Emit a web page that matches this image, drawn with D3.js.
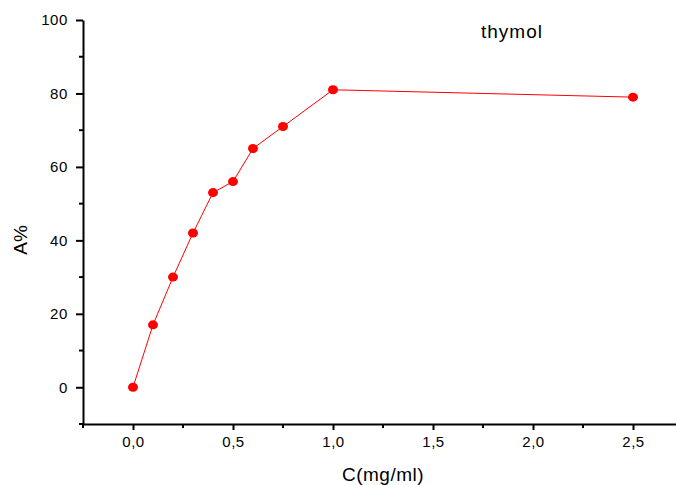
<!DOCTYPE html>
<html>
<head>
<meta charset="utf-8">
<script src="https://cdn.jsdelivr.net/npm/d3@7"></script>
<style>
  body { margin: 0; background: #fff; }
  svg text { font-family: "Liberation Sans", Arial, sans-serif; fill: #000; }
  .axis path, .axis line { stroke: #000; stroke-width: 2; }
</style>
</head>
<body>
<svg width="676" height="485"></svg>
<script>
// data
var conc = [0, 0.1, 0.2, 0.3, 0.4, 0.5, 0.6, 0.75, 1.0, 2.5];
var activity = [0, 17, 30, 42, 53, 56, 65, 71, 81, 79];
var xTicks = [0, 0.5, 1.0, 1.5, 2.0, 2.5];
var yTicks = [0, 20, 40, 60, 80, 100];
var seriesName = "thymol";

var svg = d3.select("svg");

var x = d3.scaleLinear().domain([-0.25, 2.715]).range([83, 676]);
var y = d3.scaleLinear().domain([-10, 100]).range([424, 20]);

var fmt = function(d) { return d3.format(".1f")(d).replace(".", ","); };

// minor ticks
var xMinor = d3.range(-0.25, 2.75, 0.25).filter(function(v) { return Math.abs(v * 2 - Math.round(v * 2)) > 0.01; });
var yMinor = d3.range(-10, 100, 20);

var gx = svg.append("g").attr("class", "axis")
  .attr("transform", "translate(0," + y(-10) + ")");
gx.call(d3.axisBottom(x).tickValues(xTicks).tickFormat(fmt).tickSize(6).tickSizeOuter(0));
gx.selectAll("text").attr("font-size", 15).attr("dy", "0.95em").attr("letter-spacing", 0.5);
gx.selectAll(".tick line").attr("stroke-width", 1.5);
gx.selectAll(".minor").data(xMinor).enter().append("line")
  .attr("x1", function(d) { return x(d); }).attr("x2", function(d) { return x(d); })
  .attr("y1", 0).attr("y2", 4).attr("stroke", "#000").attr("stroke-width", 1.5);

var gy = svg.append("g").attr("class", "axis")
  .attr("transform", "translate(" + x(-0.25) + ",0)");
gy.call(d3.axisLeft(y).tickValues(yTicks).tickSize(7).tickSizeOuter(0));
gy.selectAll("text").attr("font-size", 15).attr("dx", "-0.35em").attr("letter-spacing", 0.5);
gy.selectAll(".tick line").attr("stroke-width", 1.5);
gy.selectAll(".minor").data(yMinor).enter().append("line")
  .attr("y1", function(d) { return y(d); }).attr("y2", function(d) { return y(d); })
  .attr("x1", 0).attr("x2", -4).attr("stroke", "#000").attr("stroke-width", 1.5);

// data
var pts = conc.map(function(c, i) { return [c, activity[i]]; });
var line = d3.line().x(function(d) { return x(d[0]); }).y(function(d) { return y(d[1]); });

svg.append("path").datum(pts)
  .attr("d", line)
  .attr("fill", "none")
  .attr("stroke", "#ff0000")
  .attr("stroke-width", 1);

svg.selectAll(".dot").data(pts).enter().append("ellipse")
  .attr("class", "dot")
  .attr("cx", function(d) { return x(d[0]); })
  .attr("cy", function(d) { return y(d[1]); })
  .attr("rx", 5).attr("ry", 4.5)
  .attr("fill", "#ff0000");

// labels
svg.append("text")
  .attr("x", 383).attr("y", 481)
  .attr("text-anchor", "middle").attr("font-size", 19).attr("letter-spacing", 0.5)
  .text("C(mg/ml)");

svg.append("text")
  .attr("transform", "translate(27,240) rotate(-90)")
  .attr("text-anchor", "middle").attr("font-size", 19)
  .text("A%");

svg.append("text")
  .attr("x", 512).attr("y", 38)
  .attr("text-anchor", "middle").attr("font-size", 19).attr("letter-spacing", 1)
  .text(seriesName);
</script>
</body>
</html>
